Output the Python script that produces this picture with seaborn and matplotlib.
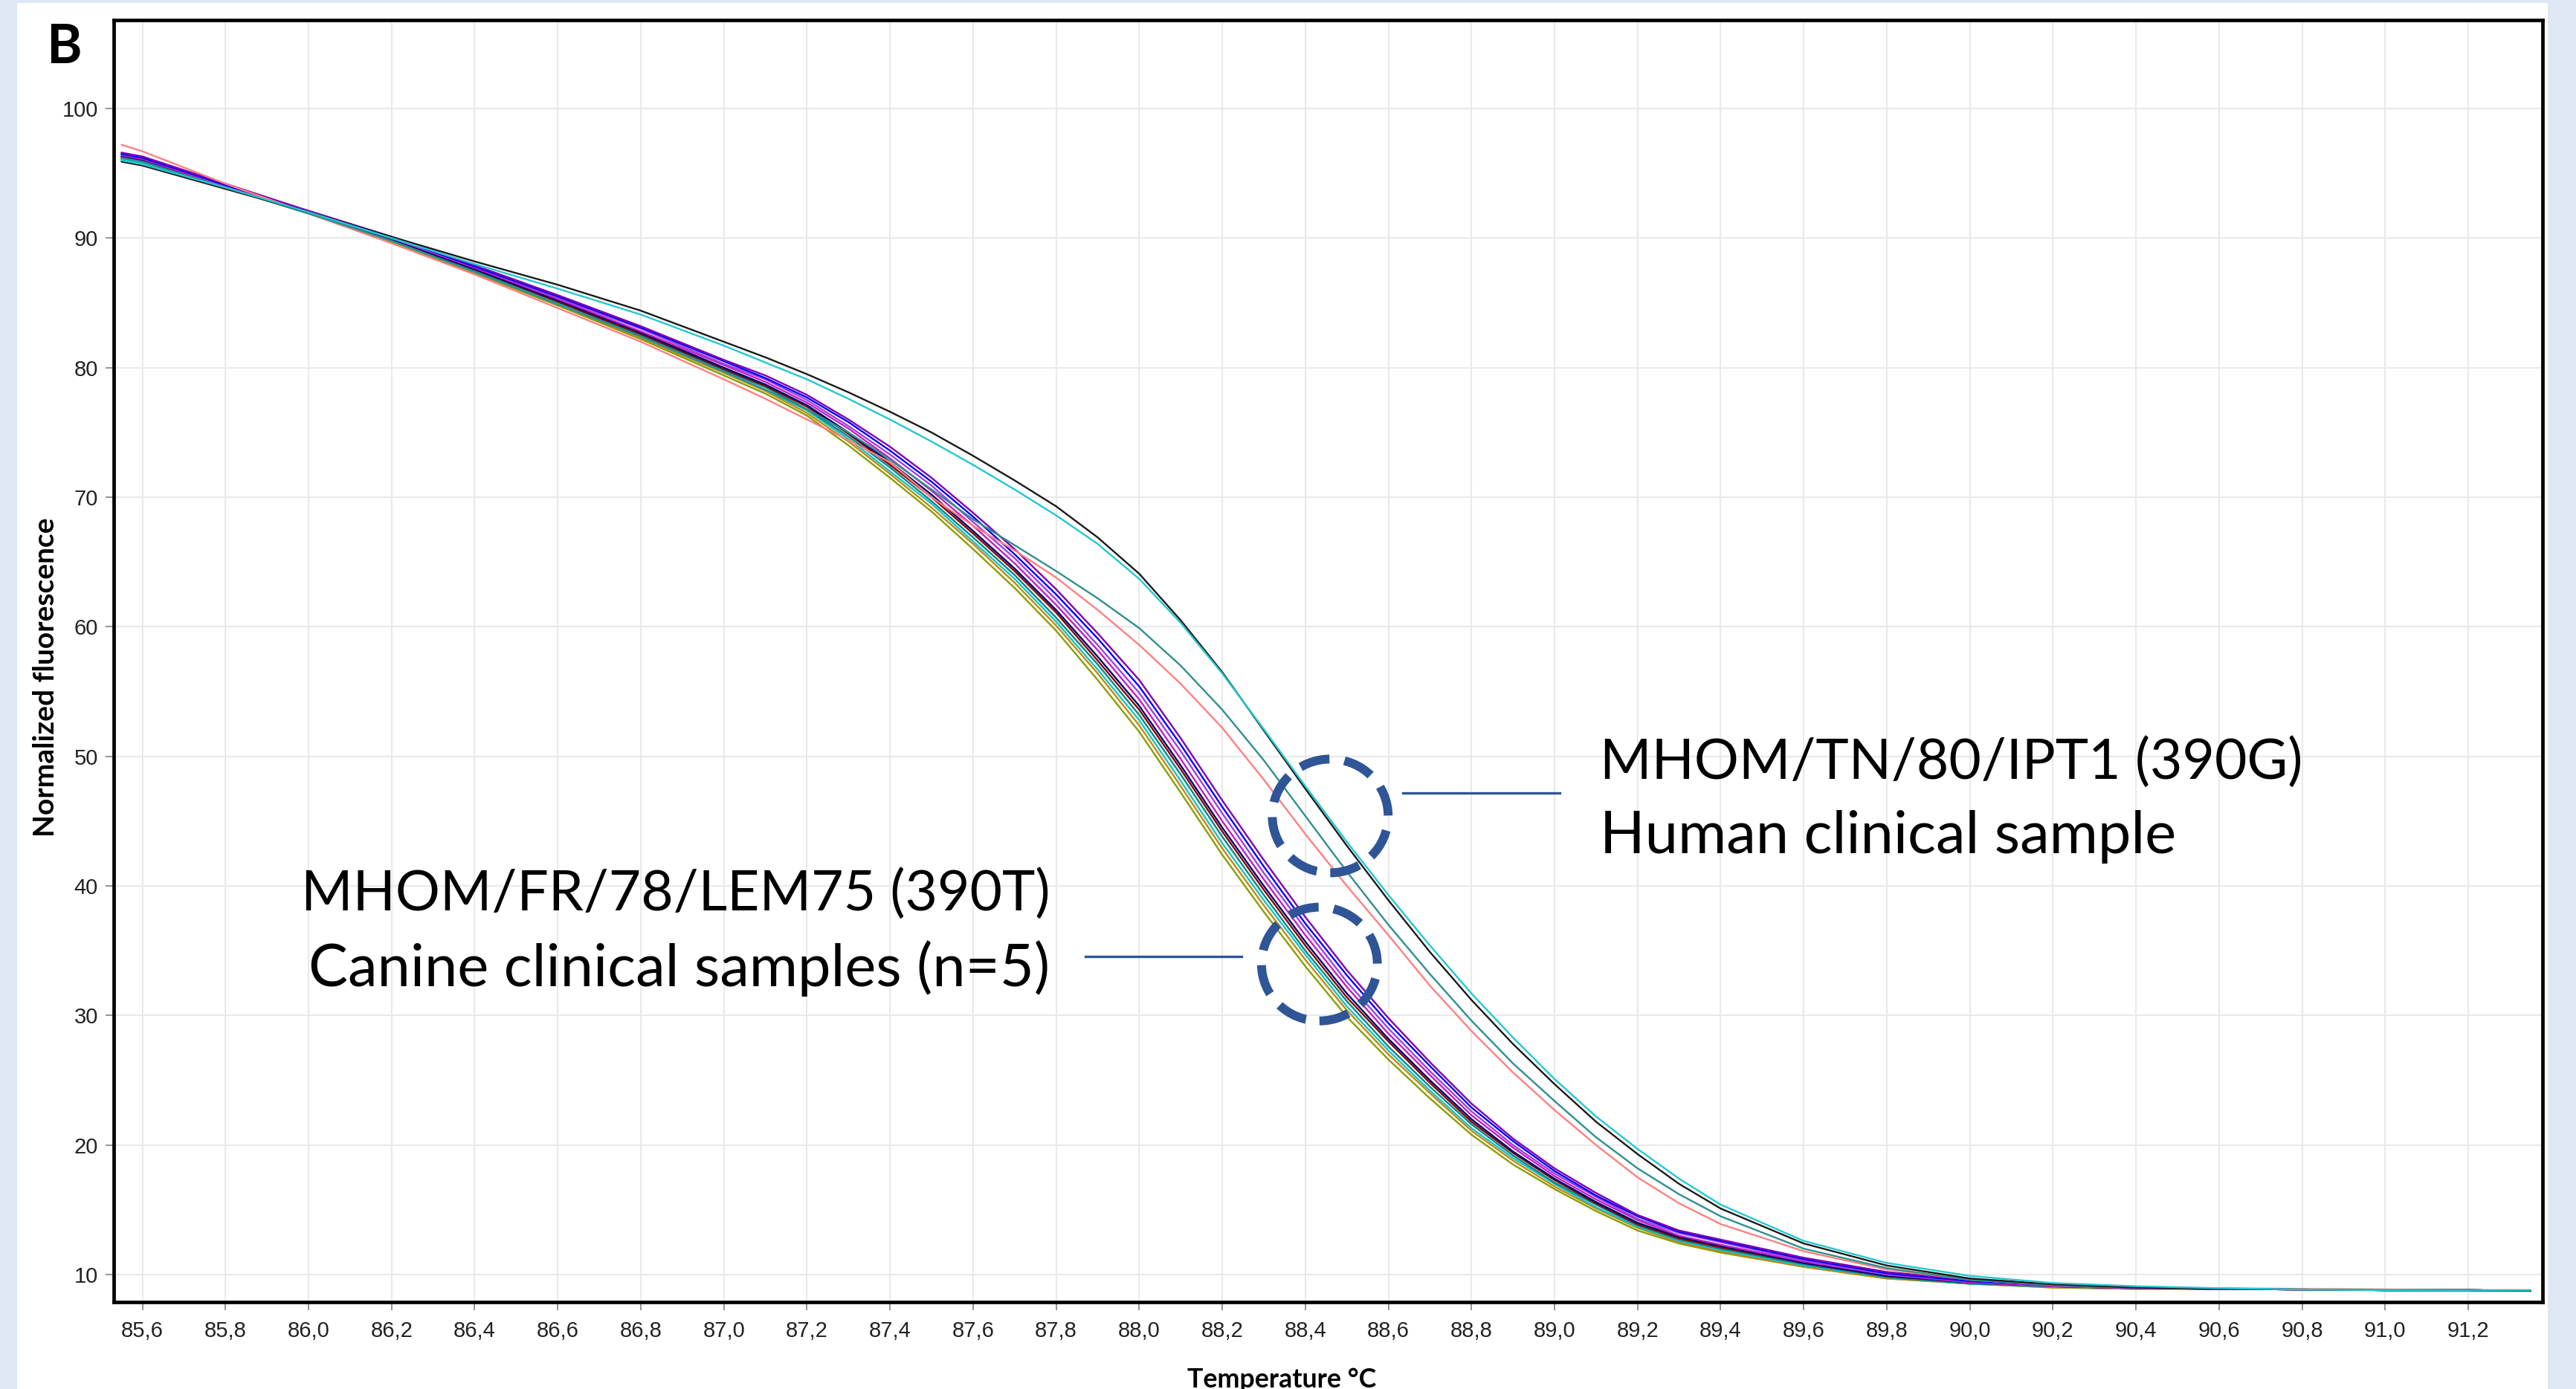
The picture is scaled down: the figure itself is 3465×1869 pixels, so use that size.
import numpy as np
import pandas as pd
import matplotlib
matplotlib.use("Agg")
import matplotlib.pyplot as plt
from matplotlib.patches import Ellipse, Rectangle
from matplotlib.ticker import FuncFormatter
import seaborn as sns

# ---------------- data ----------------
temperature = [85.55, 85.6, 85.8, 86.0, 86.2, 86.4, 86.6, 86.8, 87.0, 87.1,
               87.2, 87.3, 87.4, 87.5, 87.6, 87.7, 87.8, 87.9, 88.0, 88.1,
               88.2, 88.3, 88.4, 88.5, 88.6, 88.7, 88.8, 88.9, 89.0, 89.1,
               89.2, 89.3, 89.4, 89.6, 89.8, 90.0, 90.2, 90.4, 90.6, 90.8,
               91.0, 91.2, 91.35]

# MHOM/TN/80/IPT1 (390G) + human clinical sample group
ipt1_black = [95.9, 95.6, 93.8, 92.0, 90.1, 88.2, 86.4, 84.4, 82.0, 80.8,
              79.5, 78.1, 76.6, 75.0, 73.2, 71.3, 69.3, 66.9, 64.1, 60.5,
              56.5, 52.0, 47.5, 43.1, 38.9, 34.9, 31.2, 27.8, 24.7, 21.8,
              19.3, 17.0, 15.1, 12.4, 10.7, 9.7, 9.25, 9.0, 8.9, 8.85,
              8.8, 8.8, 8.75]
ipt1_cyan = [96.0, 95.7, 93.9, 92.0, 90.0, 88.0, 86.1, 84.1, 81.7, 80.4,
             79.1, 77.6, 76.0, 74.3, 72.5, 70.6, 68.6, 66.4, 63.7, 60.3,
             56.4, 52.1, 47.7, 43.4, 39.3, 35.4, 31.7, 28.3, 25.1, 22.2,
             19.7, 17.4, 15.4, 12.6, 10.9, 9.9, 9.35, 9.1, 8.95, 8.85,
             8.8, 8.8, 8.8]
human_teal = [96.2, 95.9, 93.9, 91.9, 89.8, 87.4, 84.9, 82.4, 79.7, 78.3,
              76.8, 75.0, 72.9, 70.6, 68.3, 66.3, 64.3, 62.2, 59.9, 57.0,
              53.6, 49.7, 45.4, 41.1, 37.0, 33.2, 29.6, 26.3, 23.4, 20.6,
              18.2, 16.2, 14.5, 12.0, 10.5, 9.6, 9.2, 9.0, 8.9, 8.85,
              8.8, 8.8, 8.75]
human_salmon = [97.2, 96.7, 94.2, 91.9, 89.6, 87.2, 84.6, 82.0, 79.1, 77.6,
                76.0, 74.4, 72.7, 70.0, 67.8, 65.9, 63.8, 61.3, 58.6, 55.6,
                52.2, 48.2, 44.0, 40.0, 36.2, 32.3, 28.8, 25.6, 22.7, 20.0,
                17.5, 15.5, 13.9, 11.8, 10.4, 9.6, 9.2, 9.0, 8.95, 8.9,
                8.85, 8.8, 8.8]

# MHOM/FR/78/LEM75 (390T) + canine clinical samples group
canine_purple = [96.6, 96.3, 94.2, 92.1, 90.1, 87.9, 85.6, 83.2, 80.6, 79.4,
                 77.9, 76.0, 73.9, 71.5, 68.8, 66.0, 62.9, 59.5, 55.9, 51.4,
                 46.6, 42.0, 37.6, 33.5, 29.8, 26.4, 23.2, 20.5, 18.2, 16.3,
                 14.6, 13.4, 12.7, 11.3, 10.2, 9.6, 9.2, 9.0, 8.9, 8.85,
                 8.8, 8.8, 8.75]
canine_blue = [96.5, 96.2, 94.1, 92.1, 90.1, 87.8, 85.5, 83.1, 80.5, 79.2,
               77.7, 75.8, 73.6, 71.2, 68.5, 65.6, 62.5, 59.1, 55.4, 50.9,
               46.1, 41.5, 37.1, 33.1, 29.4, 26.1, 22.9, 20.3, 18.0, 16.1,
               14.5, 13.3, 12.6, 11.2, 10.1, 9.5, 9.2, 9.0, 8.9, 8.85,
               8.8, 8.8, 8.75]
canine_violet = [96.5, 96.2, 94.1, 92.0, 90.0, 87.8, 85.4, 83.0, 80.3, 79.1,
                 77.5, 75.5, 73.3, 70.9, 68.1, 65.3, 62.1, 58.6, 54.9, 50.4,
                 45.6, 41.0, 36.7, 32.6, 29.0, 25.7, 22.6, 20.0, 17.8, 16.0,
                 14.3, 13.2, 12.5, 11.1, 10.0, 9.5, 9.15, 8.95, 8.9, 8.85,
                 8.8, 8.8, 8.75]
canine_magenta = [96.4, 96.1, 94.0, 92.0, 90.0, 87.7, 85.3, 82.8, 80.2, 78.9,
                  77.3, 75.3, 73.0, 70.5, 67.8, 64.9, 61.7, 58.2, 54.4, 49.8,
                  45.0, 40.5, 36.2, 32.2, 28.6, 25.4, 22.3, 19.8, 17.6, 15.8,
                  14.2, 13.0, 12.3, 11.0, 10.0, 9.4, 9.1, 8.95, 8.9, 8.85,
                  8.8, 8.8, 8.75]
canine_navy = [96.3, 96.0, 94.0, 92.0, 89.9, 87.6, 85.2, 82.7, 80.0, 78.7,
               77.1, 75.0, 72.7, 70.2, 67.4, 64.5, 61.3, 57.7, 53.9, 49.3,
               44.5, 40.0, 35.7, 31.7, 28.2, 25.0, 22.0, 19.5, 17.4, 15.6,
               14.0, 12.9, 12.2, 10.9, 9.9, 9.4, 9.1, 8.95, 8.9, 8.85,
               8.8, 8.8, 8.75]
canine_darkred = [96.3, 96.0, 94.0, 92.0, 89.9, 87.6, 85.1, 82.6, 79.9, 78.6,
                  77.0, 74.9, 72.5, 70.0, 67.2, 64.3, 61.1, 57.4, 53.6, 49.0,
                  44.2, 39.7, 35.4, 31.4, 28.0, 24.8, 21.8, 19.4, 17.3, 15.5,
                  13.9, 12.8, 12.1, 10.9, 9.9, 9.4, 9.1, 8.95, 8.9, 8.85,
                  8.8, 8.8, 8.75]
canine_teal = [96.2, 95.9, 93.9, 92.0, 89.8, 87.5, 85.1, 82.5, 79.8, 78.5,
               76.8, 74.7, 72.3, 69.7, 66.9, 64.0, 60.7, 57.1, 53.2, 48.6,
               43.8, 39.3, 35.0, 31.1, 27.6, 24.5, 21.6, 19.2, 17.1, 15.4,
               13.8, 12.7, 12.0, 10.8, 9.8, 9.3, 9.1, 8.95, 8.9, 8.85,
               8.8, 8.8, 8.75]
canine_cyan = [96.1, 95.8, 93.9, 91.9, 89.8, 87.4, 85.0, 82.4, 79.7, 78.3,
               76.7, 74.5, 72.0, 69.5, 66.6, 63.7, 60.4, 56.7, 52.8, 48.1,
               43.3, 38.9, 34.7, 30.7, 27.3, 24.2, 21.3, 19.0, 17.0, 15.2,
               13.7, 12.6, 11.9, 10.7, 9.8, 9.3, 9.05, 8.95, 8.9, 8.85,
               8.8, 8.8, 8.75]
canine_orange = [96.1, 95.8, 93.9, 91.9, 89.8, 87.4, 84.9, 82.3, 79.6, 78.2,
                 76.5, 74.3, 71.8, 69.2, 66.4, 63.4, 60.1, 56.4, 52.4, 47.7,
                 42.9, 38.5, 34.3, 30.4, 27.0, 24.0, 21.1, 18.8, 16.8, 15.1,
                 13.6, 12.5, 11.8, 10.6, 9.7, 9.3, 9.0, 8.9, 8.9, 8.85,
                 8.8, 8.8, 8.75]
canine_olive = [96.0, 95.7, 93.9, 91.9, 89.7, 87.3, 84.8, 82.2, 79.4, 78.0,
                76.3, 74.0, 71.5, 68.9, 66.0, 63.0, 59.7, 55.9, 51.9, 47.2,
                42.4, 38.0, 33.8, 29.9, 26.6, 23.6, 20.8, 18.5, 16.6, 14.9,
                13.4, 12.4, 11.7, 10.6, 9.7, 9.3, 9.0, 8.9, 8.9, 8.85,
                8.8, 8.8, 8.75]

curves = {
    "canine_olive": (canine_olive, "#8c9c00"),
    "canine_orange": (canine_orange, "#c08a10"),
    "canine_cyan": (canine_cyan, "#18c0c8"),
    "canine_teal": (canine_teal, "#008888"),
    "canine_darkred": (canine_darkred, "#8b0000"),
    "canine_navy": (canine_navy, "#000070"),
    "canine_magenta": (canine_magenta, "#c020c0"),
    "canine_violet": (canine_violet, "#a040e0"),
    "canine_blue": (canine_blue, "#0000ff"),
    "canine_purple": (canine_purple, "#8000b0"),
    "human_salmon": (human_salmon, "#ff8080"),
    "human_teal": (human_teal, "#2e8f8f"),
    "ipt1_black": (ipt1_black, "#1a1a1a"),
    "ipt1_cyan": (ipt1_cyan, "#22c8d2"),
}

rows = []
for name, (vals, _) in curves.items():
    for t, v in zip(temperature, vals):
        rows.append({"Temperature": t, "Fluorescence": v, "curve": name})
df = pd.DataFrame(rows)
palette = {name: col for name, (_, col) in curves.items()}

# ---------------- figure ----------------
W, H, DPI = 3466, 1869, 200
fig = plt.figure(figsize=(W / DPI, H / DPI), dpi=DPI)
fig.patch.set_facecolor("#dde8f4")
fig.add_artist(Rectangle((23 / W, 0), (3427 - 23) / W, (H - 4) / H,
                         transform=fig.transFigure, facecolor="white",
                         edgecolor="none", zorder=-5))

ax = fig.add_axes([153 / W, 1 - 1752 / H, (3420 - 153) / W, (1752 - 27) / H])
ax.set_facecolor("white")

sns.lineplot(data=df, x="Temperature", y="Fluorescence", hue="curve",
             palette=palette, hue_order=list(curves.keys()), estimator=None,
             sort=False, legend=False, linewidth=0.85, ax=ax)

ax.set_xlim(85.531, 91.379)
ax.set_ylim(7.88, 106.83)
ax.set_xticks(np.round(np.arange(85.6, 91.21, 0.2), 1))
ax.set_yticks(np.arange(10, 101, 10))
ax.xaxis.set_major_formatter(FuncFormatter(lambda v, p: f"{v:.1f}".replace(".", ",")))
ax.yaxis.set_major_formatter(FuncFormatter(lambda v, p: f"{v:.0f}"))
ax.grid(True, color="#e9e9e9", linewidth=0.75)
ax.set_axisbelow(True)
for s in ax.spines.values():
    s.set_color("black")
    s.set_linewidth(1.7)
ax.tick_params(axis="both", direction="out", length=4, width=0.6, color="#808080",
               labelcolor="#222222", labelsize=10.5)
ax.tick_params(axis="x", pad=5)
ax.tick_params(axis="y", pad=3.6)
for lab in ax.get_xticklabels() + ax.get_yticklabels():
    lab.set_family(["Liberation Sans", "DejaVu Sans"])
ax.set_xlabel("")
ax.set_ylabel("")

# ---------------- annotations ----------------
blue = "#2f5597"
for cx, cy in [(88.46, 45.4), (88.434, 33.97)]:
    ax.add_patch(Ellipse((cx, cy), 0.279, 8.78, fill=False, edgecolor=blue,
                         linewidth=4.3, linestyle=(0, (3.4, 1.7)), zorder=10))
ax.plot([88.635, 89.012], [47.16, 47.16], color=blue, lw=1.2, zorder=10)
ax.plot([87.871, 88.247], [34.54, 34.54], color=blue, lw=1.2, zorder=10)

afont = ["Lato", "DejaVu Sans"]
ax.text(89.11, 48.25, "MHOM/TN/80/IPT1 (390G)", fontsize=27, family=afont,
        ha="left", va="baseline", color="black", zorder=11)
ax.text(89.11, 42.51, "Human clinical sample", fontsize=28.6, family=afont,
        ha="left", va="baseline", color="black", zorder=11)
ax.text(87.785, 38.1, "MHOM/FR/78/LEM75 (390T)", fontsize=27, family=afont,
        ha="right", va="baseline", color="black", zorder=11)
ax.text(87.785, 32.24, "Canine clinical samples (n=5)", fontsize=28.6, family=afont,
        ha="right", va="baseline", color="black", zorder=11)

fig.text(62 / W, 1 - 85 / H, "B", fontsize=26, fontweight="bold", family=afont,
         ha="left", va="baseline")
fig.text(62 / W, 1 - 911 / H, "Normalized fluorescence", fontsize=14,
         fontweight="bold", family=afont, rotation=90, ha="center", va="center")
fig.text(1724 / W, 1 - 1840 / H, "Temperature °C", fontsize=12.9,
         fontweight="bold", family=afont, ha="center", va="top")

fig.savefig("out.png", dpi=DPI)
